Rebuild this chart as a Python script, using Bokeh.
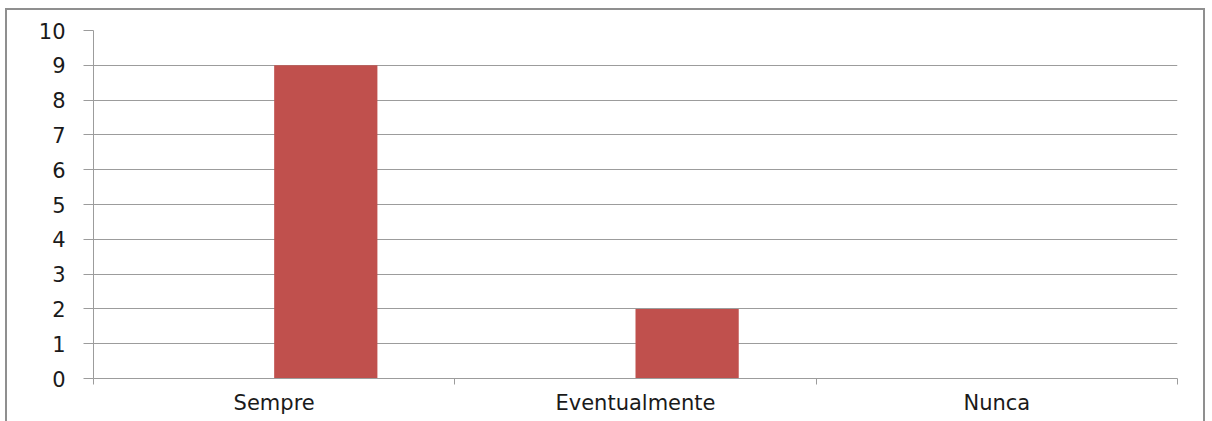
import numpy as np
from bokeh.plotting import figure
from bokeh.models import Range1d, FixedTicker
from bokeh.embed import file_html
from bokeh.resources import INLINE

categories = ["Sempre", "Eventualmente", "Nunca"]
values = [9, 2, 0]
y_ticks = list(range(0, 11))

FONT = "DejaVu Sans"
GRID = "#9c9c9c"
BORDER = "#8f8f8f"

p = figure(width=1212, height=421, output_backend="svg", toolbar_location=None,
           x_range=Range1d(0, len(categories)), y_range=Range1d(0, 10),
           min_border_left=93, min_border_right=35, min_border_top=30, min_border_bottom=43)
p.outline_line_color = None
p.background_fill_color = "white"
p.border_fill_color = None

# clustered layout: empty first series, red second series right of center
bar_w = 1 / 3.5
idx = np.arange(len(categories))
xs = idx + 0.5 + bar_w / 2
p.vbar(x=xs, top=values, width=bar_w, bottom=0, fill_color="#C0504D", line_color=None)

# y axis
p.yaxis.ticker = FixedTicker(ticks=y_ticks, minor_ticks=[])
p.yaxis.axis_line_color = GRID
p.yaxis.major_tick_line_color = GRID
p.yaxis.major_tick_out = 10
p.yaxis.major_tick_in = 0
p.yaxis.minor_tick_line_color = None
p.yaxis.major_label_standoff = 18
p.yaxis.major_label_text_font = FONT
p.yaxis.major_label_text_font_size = "21px"
p.yaxis.major_label_text_color = "#1a1a1a"

# x axis: labels at centers, ticks at boundaries
centers = list(idx + 0.5)
p.xaxis.ticker = FixedTicker(ticks=centers, minor_ticks=list(range(len(categories) + 1)))
p.xaxis.major_label_overrides = {float(c): n for c, n in zip(centers, categories)}
p.xaxis.axis_line_color = GRID
p.xaxis.major_tick_line_color = None
p.xaxis.major_tick_out = 0
p.xaxis.major_tick_in = 0
p.xaxis.minor_tick_line_color = GRID
p.xaxis.minor_tick_out = 6
p.xaxis.minor_tick_in = 0
p.xaxis.major_label_standoff = 6
p.xaxis.major_label_text_font = FONT
p.xaxis.major_label_text_font_size = "21px"
p.xaxis.major_label_text_color = "#1a1a1a"

p.xgrid.grid_line_color = None
p.ygrid.grid_line_color = GRID
p.ygrid.grid_line_width = 1

# outer chart border (left, right, top edges) drawn as page background
g = f"linear-gradient({BORDER},{BORDER})"
p.styles = {
    "background": (f"{g} 5px 8px / 2px 100% no-repeat, "
                   f"{g} 1203px 8px / 2px 100% no-repeat, "
                   f"{g} 5px 8px / 1200px 2px no-repeat, white"),
}

open("out.html", "w").write(file_html(p, INLINE))
